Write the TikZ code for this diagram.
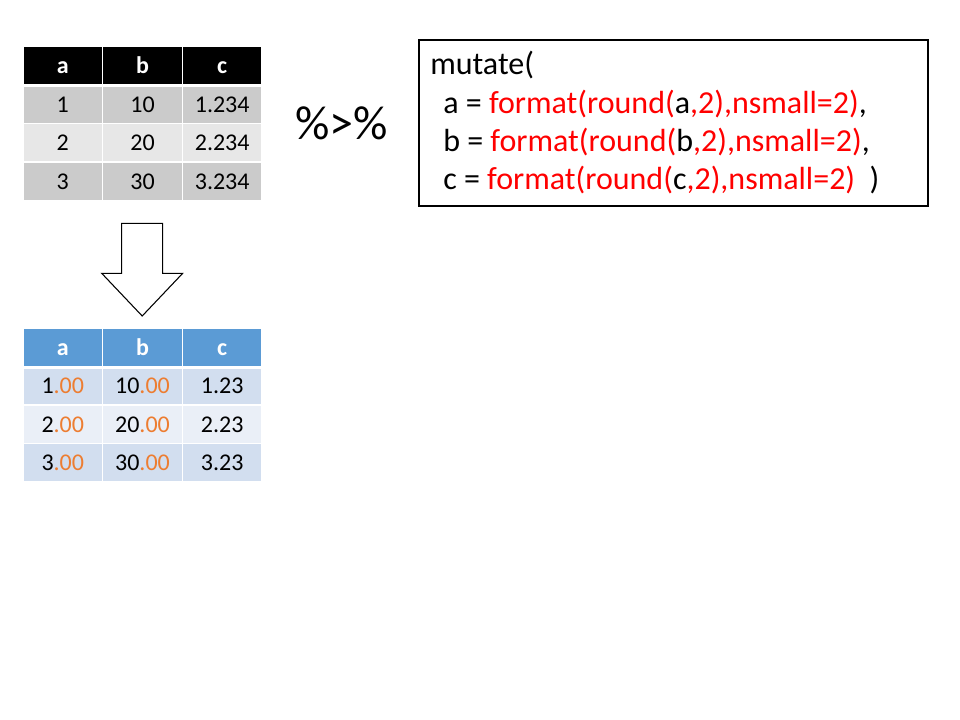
\documentclass[tikz,border=0pt]{standalone}
\usepackage{fontspec}
\setmainfont{Carlito}
\usepackage{xcolor}
\usetikzlibrary{positioning}
\definecolor{hdrblue}{HTML}{5B9BD5}
\definecolor{greydark}{HTML}{CBCBCB}
\definecolor{greylight}{HTML}{E7E7E7}
\definecolor{bluedark}{HTML}{D2DEEF}
\definecolor{bluelight}{HTML}{EAEFF7}
\definecolor{numorange}{HTML}{ED7D31}
\definecolor{codered}{HTML}{FF0000}
\newcommand{\zz}{\textcolor{numorange}{.00}}
\newcommand{\rd}[1]{\textcolor{codered}{#1}}

\begin{document}
\begin{tikzpicture}[x=0.75pt,y=-0.75pt,
  cell/.style={draw=white, line width=0.9pt, inner sep=0pt, minimum width=59.75pt, minimum height=28.9pt,
    text height=12pt, text depth=0pt, font=\fontsize{18}{21.6}\selectfont},
  head/.style={cell, text=white, font=\fontsize{18}{21.6}\selectfont\bfseries},
  codeline/.style={anchor=base west, inner sep=0pt, font=\fontsize{24}{28.8}\selectfont}]
\useasboundingbox (0,0) rectangle (960,720);

% input table
\node [head, fill=black] (ta) at (62.8,65.4) {a};
\node [head, fill=black] (tb) at (142.5,65.4) {b};
\node [head, fill=black] (tc) at (222.2,65.4) {c};
\foreach \r/\y/\col/\cc in {1/104.2/greydark/1.234, 2/142.7/greylight/2.234, 3/181.2/greydark/3.234}{
  \node [cell, fill=\col] (ta\r) at (62.8,\y) {\r};
  \node [cell, fill=\col] (tb\r) at (142.5,\y) {\r0};
  \node [cell, fill=\col] (tc\r) at (222.2,\y) {\cc};
}
\draw [white, line width=2.2pt] (ta.south west) -- (tc.south east);

% pipe
\node [codeline, font=\fontsize{36}{43.2}\selectfont] (pipe) at (295,140) {\%>\%};

% code box
\draw [line width=0.8pt] (419,40) rectangle (928,206);
\node [codeline] (l0) at (430,75) {mutate(};
\node [codeline] (l1) at (443,113.3) {a = \rd{format(round(}a\rd{,2),nsmall=2)},};
\node [codeline] (l2) at (443,151.7) {b = \rd{format(round(}b\rd{,2),nsmall=2)},};
\node [codeline] (l3) at (443,190) {c = \rd{format(round(}c\rd{,2),nsmall=2)}\hspace{0.45em})};

% down arrow
\draw [line width=0.8pt, fill=white] (121.7,223.3) -- (162.7,223.3) -- (162.7,273.3) -- (182.7,273.3)
  -- (142.2,316) -- (101.7,273.3) -- (121.7,273.3) -- cycle;

% output table
\node [head, fill=hdrblue] (oa) at (62.8,347.2) {a};
\node [head, fill=hdrblue] (ob) at (142.5,347.2) {b};
\node [head, fill=hdrblue] (oc) at (222.2,347.2) {c};
\foreach \r/\y/\col in {1/385.7/bluedark, 2/424.2/bluelight, 3/462.7/bluedark}{
  \node [cell, fill=\col] (oa\r) at (62.8,\y) {\r\zz};
  \node [cell, fill=\col] (ob\r) at (142.5,\y) {\r0\zz};
  \node [cell, fill=\col] (oc\r) at (222.2,\y) {\r.23};
}
\draw [white, line width=2.2pt] (oa.south west) -- (oc.south east);

\end{tikzpicture}
\end{document}
